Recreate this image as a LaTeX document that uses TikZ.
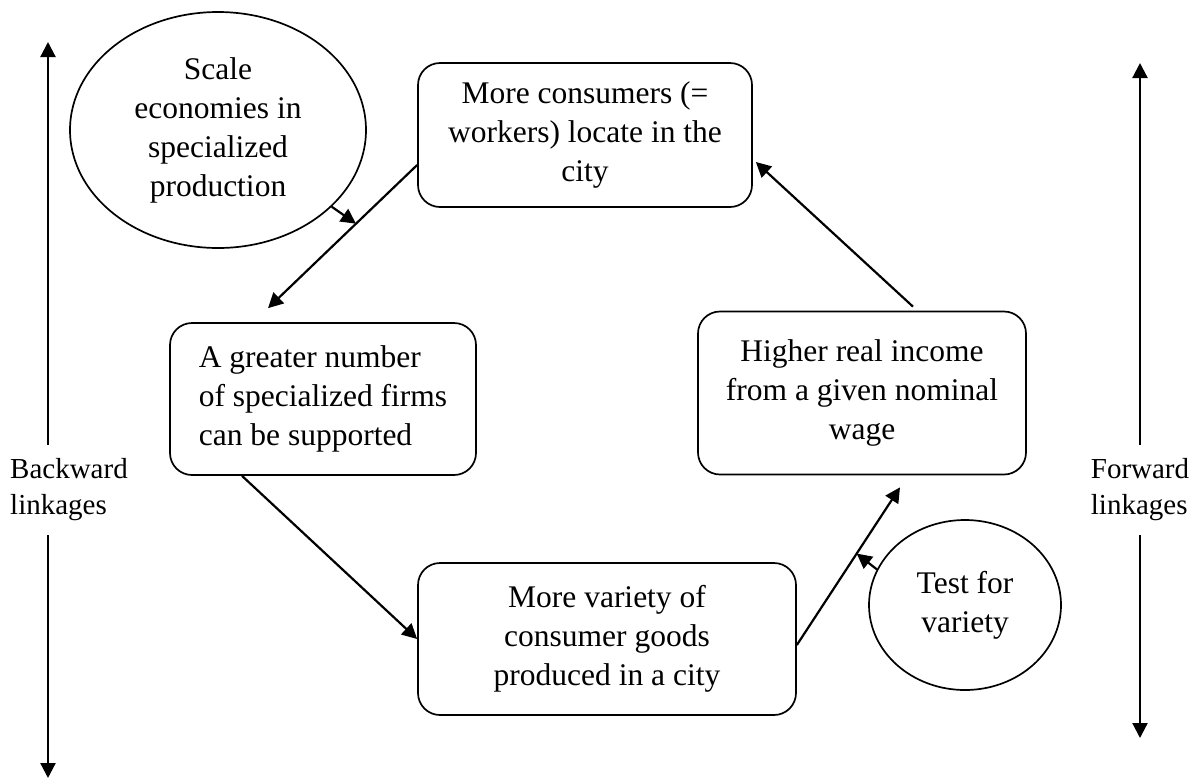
\documentclass[tikz,border=0pt]{standalone}
\usepackage{fontspec}
\setmainfont{Liberation Serif}
\usetikzlibrary{arrows.meta,shapes.geometric}

\begin{document}
\begin{tikzpicture}[x=1pt,y=-1pt]
            \tikzstyle{every node}+=[inner sep=0pt, font=\fontsize{31.5}{39}\selectfont]
            \tikzstyle{stepbox}=[draw=black, line width=1.7pt, rectangle, rounded corners=22pt, align=center]
            \tikzstyle{bubble}=[draw=black, line width=1.7pt, ellipse, align=center]
            \tikzstyle{flow}=[draw=black, line width=2.2pt, -{Triangle[length=15pt,width=15pt]}]
            \tikzstyle{sidetext}=[align=left, font=\fontsize{29}{36}\selectfont]
            \useasboundingbox (0,0) rectangle (1189,780);
            % boxes of the cycle
            \node [stepbox, minimum width=334pt, minimum height=144pt] (consumers) at (585,135) {More consumers (=\\workers) locate in the\\city};
            \node [stepbox, minimum width=306pt, minimum height=152pt, align=left] (firms) at (323,399) {A greater number\\of specialized firms\\can be supported};
            \node [stepbox, minimum width=378pt, minimum height=152pt] (variety) at (607,639) {More variety of\\consumer goods\\produced in a city};
            \node [stepbox, minimum width=328pt, minimum height=163pt] (income) at (862,393) {Higher real income\\from a given nominal\\wage};
            % side ellipses
            \node [bubble, minimum width=296pt, minimum height=236pt] (scale) at (218,130) {Scale\\economies in\\specialized\\production};
            \node [bubble, minimum width=192pt, minimum height=170pt] (taste) at (965,605) {Test for\\variety};
            % linkage labels
            \node [sidetext, anchor=west] (backward) at (10,490) {Backward\\linkages};
            \node [sidetext] (forward) at (1140,490) {Forward\\linkages};
            \coordinate (backtop) at (48,42);
            \coordinate (backbot) at (48,778);
            \coordinate (fortop) at (1140,63);
            \coordinate (forbot) at (1140,738);
            % cycle
            \draw [flow] ([yshift=-30pt]consumers.west) -- coordinate[pos=0.41] (hitA) ([xshift=-55pt,yshift=14pt]firms.north);
            \draw [flow] ([xshift=-81pt]firms.south) -- (variety.west);
            \draw [flow] ([yshift=-6pt]variety.east) -- coordinate[pos=0.58] (hitB) ([xshift=38pt,yshift=-12pt]income.south);
            \draw [flow] ([xshift=51pt,yshift=4pt]income.north) -- ([xshift=3pt,yshift=-27pt]consumers.east);
            \draw [flow] (scale.-34) -- (hitA);
            \draw [flow] (taste.158) -- (hitB);
            % linkages
            \draw [flow] ([yshift=14pt]backward.north -| backtop) -- (backtop);
            \draw [flow] ([yshift=-14pt]backward.south -| backbot) -- (backbot);
            \draw [flow] ([yshift=14pt]forward.north -| fortop) -- (fortop);
            \draw [flow] ([yshift=-14pt]forward.south -| forbot) -- (forbot);
\end{tikzpicture}
\end{document}
